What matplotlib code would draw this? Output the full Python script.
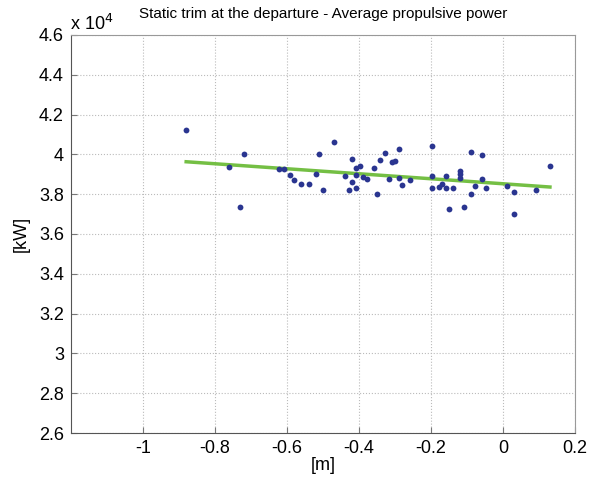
import matplotlib
matplotlib.use("Agg")
import matplotlib.pyplot as plt
import numpy as np
from matplotlib.ticker import FuncFormatter

# trim [m] vs average propulsive power [kW]
trim = [-0.881, -0.719, -0.761, -0.731, -0.621, -0.608, -0.591, -0.580, -0.560, -0.540,
        -0.519, -0.510, -0.500, -0.470, -0.439, -0.420, -0.420, -0.429, -0.409, -0.398,
        -0.409, -0.408, -0.390, -0.379, -0.359, -0.349, -0.342, -0.329, -0.318, -0.309,
        -0.299, -0.289, -0.288, -0.280, -0.258, -0.198, -0.198, -0.198, -0.179, -0.171,
        -0.158, -0.158, -0.149, -0.139, -0.119, -0.119, -0.119, -0.108, -0.088, -0.088,
        -0.079, -0.058, -0.058, -0.048, 0.010, 0.031, 0.031, 0.092, 0.131]
power = [41240, 40040, 39370, 37340, 39280, 39250, 38980, 38700, 38500, 38510,
         39000, 40040, 38200, 40640, 38930, 39750, 38630, 38210, 39300, 39420,
         38950, 38310, 38880, 38760, 39330, 38000, 39720, 40090, 38750, 39600,
         39670, 40270, 38810, 38450, 38700, 40440, 38930, 38310, 38380, 38510,
         38910, 38300, 37240, 38330, 39170, 39000, 38800, 37370, 40110, 38000,
         38400, 39950, 38750, 38310, 38430, 38110, 37010, 38210, 39420]

# least squares line as drawn in the figure
fit_x = [-0.88, 0.13]
fit_y = [39630, 38360]

xticks = [-1, -0.8, -0.6, -0.4, -0.2, 0, 0.2]
yticks = np.arange(2.6, 4.61, 0.2) * 1e4

plt.rcParams["font.family"] = ["Liberation Sans", "DejaVu Sans"]

fig = plt.figure(figsize=(6.01, 4.79), dpi=100)
ax = fig.add_axes([0.118, 0.096, 0.839, 0.831])

ax.plot(trim, power, "o", color="#2a3590", markersize=4.2, markeredgewidth=0, zorder=3)
ax.plot(fit_x, fit_y, color="#74bf44", linewidth=2.5, zorder=2)

ax.set_xlim(-1.2, 0.2)
ax.set_ylim(2.6e4, 4.6e4)
ax.set_xticks(xticks)
ax.set_yticks(yticks)
ax.xaxis.set_major_formatter(FuncFormatter(lambda v, p: "%g" % round(v, 2)))
ax.yaxis.set_major_formatter(FuncFormatter(lambda v, p: "%g" % round(v / 1e4, 2)))
ax.tick_params(direction="in", labelsize=13, length=4, color="#777777", pad=5)
ax.grid(True, linestyle=":", color="#bbbbbb", linewidth=0.8)
for s in ax.spines.values():
    s.set_color("#999999")
ax.spines["left"].set_color("#555555")
ax.spines["bottom"].set_color("#555555")

ax.text(-0.002, 1.012, r"x 10$^4$", transform=ax.transAxes, fontsize=13, ha="left", va="baseline")
ax.set_title("Static trim at the departure - Average propulsive power", fontsize=11, pad=12)
ax.set_xlabel("[m]", fontsize=13, labelpad=0)
ax.set_ylabel("[kW]", fontsize=13, labelpad=7)

fig.savefig("out.png", dpi=100, facecolor="white")
